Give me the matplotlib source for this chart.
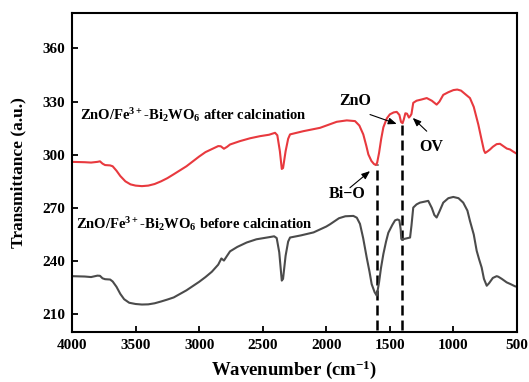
import numpy as np
import matplotlib
matplotlib.use("Agg")
import matplotlib.pyplot as plt

plt.rcParams["font.family"] = ["Liberation Serif", "DejaVu Serif"]
plt.rcParams["font.weight"] = "bold"
plt.rcParams["mathtext.fontset"] = "custom"
plt.rcParams["mathtext.rm"] = "Liberation Serif:bold"
plt.rcParams["mathtext.it"] = "Liberation Serif:bold"
plt.rcParams["mathtext.bf"] = "Liberation Serif:bold"
plt.rcParams["mathtext.default"] = "rm"

# FTIR spectrum after calcination (wavenumber, transmittance)
after_wn = [4000, 3900, 3850, 3800, 3780, 3760, 3740, 3700, 3680, 3650, 3620,
            3580, 3540, 3500, 3450, 3400, 3350, 3300, 3250, 3200, 3100, 3000,
            2950, 2900, 2850, 2830, 2805, 2780, 2757, 2679, 2600, 2521, 2450,
            2403, 2385, 2365, 2350, 2340, 2320, 2300, 2285, 2181, 2049, 1918,
            1839, 1774, 1740, 1709, 1685, 1669, 1645, 1625, 1610, 1600, 1585,
            1568, 1551, 1524, 1500, 1470, 1446, 1425, 1412, 1400, 1390, 1378,
            1365, 1350, 1340, 1330, 1316, 1290, 1250, 1210, 1170, 1132, 1110,
            1080, 1040, 1000, 970, 940, 900, 870, 840, 804, 780, 760, 750,
            730, 712, 690, 660, 634, 610, 580, 555, 530, 502]
after_t = [296.0, 295.8, 295.6, 296.0, 296.3, 295.0, 294.2, 294.0, 293.5,
           291.0, 288.0, 285.0, 283.3, 282.6, 282.3, 282.6, 283.5, 285.0,
           286.8, 289.0, 293.5, 299.0, 301.5, 303.2, 304.9, 304.8, 303.4,
           304.5, 305.8, 307.7, 309.3, 310.5, 311.3, 312.4, 311.0, 302.0,
           292.0, 292.5, 302.0, 309.0, 311.5, 313.3, 315.2, 318.6, 319.4,
           319.0, 316.5, 311.5, 305.0, 300.2, 296.5, 294.8, 294.2, 295.5,
           301.0, 309.0, 315.5, 320.5, 322.8, 323.9, 324.2, 322.5, 318.5,
           317.8, 320.0, 323.4, 323.2, 321.0, 321.8, 323.0, 329.3, 330.5,
           331.2, 332.0, 330.5, 328.3, 330.0, 333.8, 335.3, 336.5, 336.8,
           336.2, 333.8, 332.0, 327.0, 317.0, 309.0, 302.5, 301.0, 302.0,
           303.0, 304.5, 306.0, 306.2, 305.0, 303.5, 303.0, 301.8, 300.6]

# FTIR spectrum before calcination (wavenumber, transmittance)
before_wn = [4000, 3900, 3850, 3800, 3780, 3760, 3740, 3700, 3680, 3650, 3620,
             3590, 3550, 3500, 3450, 3400, 3350, 3300, 3250, 3200, 3100, 3000,
             2950, 2900, 2850, 2825, 2805, 2785, 2757, 2700, 2626, 2550, 2450,
             2410, 2390, 2370, 2350, 2340, 2320, 2300, 2285, 2200, 2100, 2000,
             1970, 1900, 1850, 1787, 1760, 1735, 1710, 1682, 1660, 1643, 1620,
             1603, 1585, 1570, 1551, 1530, 1512, 1480, 1459, 1440, 1425, 1415,
             1410, 1400, 1394, 1370, 1341, 1330, 1316, 1290, 1263, 1230, 1198,
             1170, 1150, 1132, 1110, 1080, 1040, 1001, 960, 923, 890, 870, 840,
             817, 798, 778, 760, 738, 720, 690, 660, 647, 620, 581, 550, 516,
             500]
before_t = [231.5, 231.3, 231.0, 231.8, 231.7, 230.3, 229.8, 229.6, 228.5,
            225.5, 221.5, 218.5, 216.5, 215.8, 215.5, 215.6, 216.2, 217.2,
            218.3, 219.5, 223.5, 228.3, 231.0, 234.0, 238.0, 241.5, 240.3,
            242.5, 245.5, 248.0, 250.5, 252.3, 253.5, 254.0, 253.0, 245.0,
            229.0, 230.0, 243.0, 251.0, 253.3, 254.5, 256.2, 259.5, 260.8,
            264.2, 265.3, 265.5, 264.5, 261.0, 253.0, 242.0, 234.0, 227.0,
            222.5, 220.5, 228.0, 236.0, 244.0, 251.0, 256.0, 260.5, 263.0,
            263.5, 263.0, 258.0, 252.5, 252.0, 252.4, 252.8, 253.3, 260.0,
            270.2, 272.0, 273.0, 273.5, 274.0, 270.0, 266.0, 264.6, 268.0,
            273.0, 275.5, 276.2, 275.5, 273.0, 268.5, 262.7, 255.0, 245.8,
            241.0, 236.4, 230.0, 226.1, 227.5, 230.5, 231.5, 231.2, 230.0,
            228.0, 227.0, 225.8, 225.5]

# band positions marked by dashed guide lines
band_bio = 1605
band_zno = 1405

x_ticks = [4000, 3500, 3000, 2500, 2000, 1500, 1000, 500]
y_ticks = [210, 240, 270, 300, 330, 360]

red = "#e8393e"
grey = "#4b4b4b"

fig = plt.figure(figsize=(5.29, 3.82), dpi=100)
ax = fig.add_axes([0.1361, 0.1309, 0.8412, 0.8351])

ax.plot(after_wn, after_t, color=red, lw=1.5, solid_joinstyle="round")
ax.plot(before_wn, before_t, color=grey, lw=1.5, solid_joinstyle="round")

ymin = 201
for band in (band_bio, band_zno):
    top = np.interp(band, after_wn[::-1], after_t[::-1])
    ax.plot([band, band], [ymin, top], color="black", lw=1.8,
            linestyle=(0, (4, 2)), zorder=1)

ax.set_xlim(4000, 500)
ax.set_ylim(200, 380)
ax.set_xticks(x_ticks)
ax.set_yticks(y_ticks)
ax.tick_params(direction="in", length=4.5, width=1.3, labelsize=11, pad=5)
for lab in ax.get_xticklabels() + ax.get_yticklabels():
    lab.set_fontweight("bold")
for sp in ax.spines.values():
    sp.set_linewidth(1.5)

ax.set_xlabel("Wavenumber (cm$^{-1}$)", fontsize=13.5, fontweight="bold", labelpad=4.5)
ax.set_ylabel("Transmittance (a.u.)", fontsize=12.5, fontweight="bold", labelpad=11)

ax.text(3940, 322.3, "ZnO/Fe$^{3+}$-Bi$_2$WO$_6$ after calcination",
        fontsize=10.5, fontweight="bold", va="center", ha="left")
ax.text(3965, 260.8, "ZnO/Fe$^{3+}$-Bi$_2$WO$_6$ before calcination",
        fontsize=10.5, fontweight="bold", va="center", ha="left")

arrow = dict(arrowstyle="-|>,head_length=0.5,head_width=0.2", color="black",
             lw=0.8, shrinkA=0, shrinkB=0)
ax.annotate("", xy=(1446, 317.4), xytext=(1656, 322.7), arrowprops=arrow)
ax.annotate("", xy=(1320, 320.8), xytext=(1210, 313.3), arrowprops=arrow)
ax.annotate("", xy=(1656, 290.8), xytext=(1814, 281.4), arrowprops=arrow)
ax.text(1773, 330.2, "ZnO", fontsize=11.5, fontweight="bold", ha="center", va="center")
ax.text(1176, 304.5, "OV", fontsize=11.5, fontweight="bold", ha="center", va="center")
ax.text(1837, 277.7, "Bi\u2212O", fontsize=11.5, fontweight="bold", ha="center", va="center")

fig.savefig("out.png", dpi=100)
